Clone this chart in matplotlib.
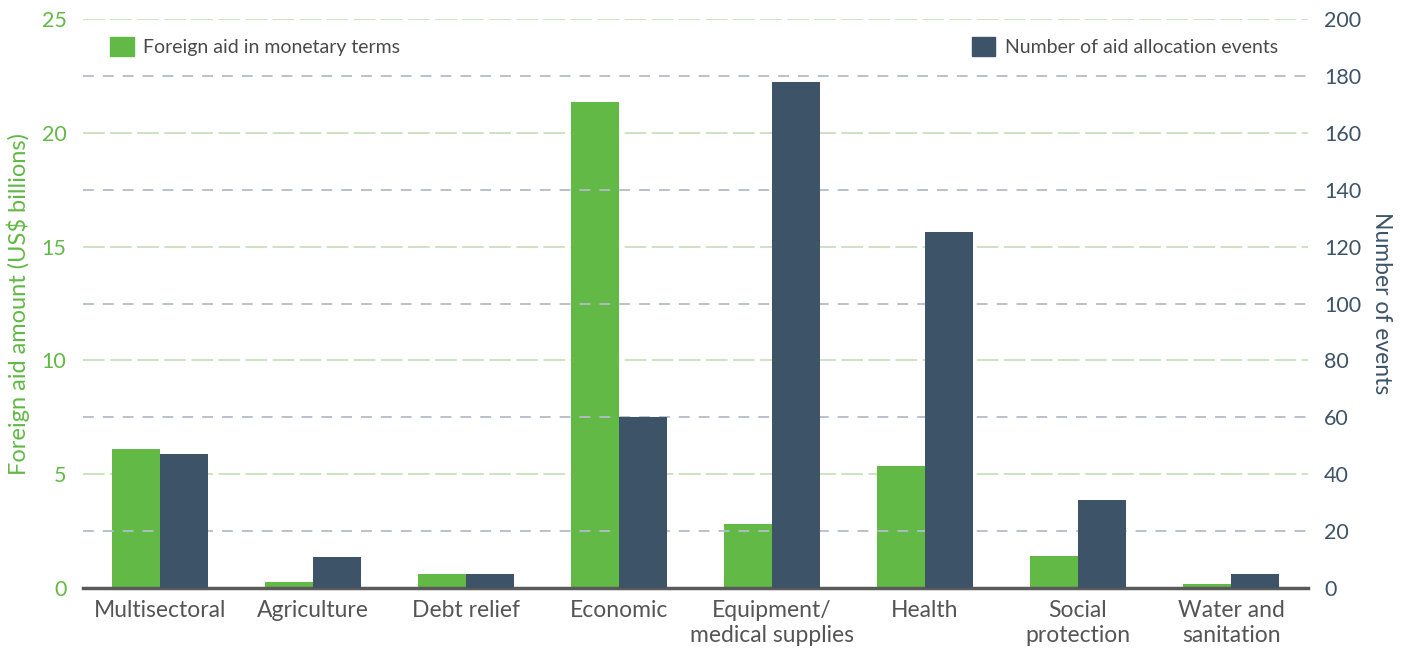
import numpy as np
import matplotlib
matplotlib.use('Agg')
import matplotlib.pyplot as plt
from matplotlib.patches import Patch

categories = ['Multisectoral', 'Agriculture', 'Debt relief', 'Economic',
              'Equipment/\nmedical supplies', 'Health', 'Social\nprotection',
              'Water and\nsanitation']
aid_billions = [6.1, 0.26, 0.62, 21.35, 2.8, 5.36, 1.42, 0.18]
events = [47, 11, 5, 60, 178, 125, 31, 5]

green = '#62b946'
navy = '#3d5368'
grey_text = '#555555'

plt.rcParams['font.family'] = ['Lato', 'DejaVu Sans']

fig = plt.figure(figsize=(14.09, 6.48), dpi=100)
ax = fig.add_axes([0.059, 0.0926, 0.869, 0.878])
ax2 = ax.twinx()

x = np.arange(len(categories))
w = 0.314
ax.bar(x - w / 2, aid_billions, w, color=green, zorder=3)
ax2.bar(x + w / 2, events, w, color=navy, zorder=3)

ax.set_xlim(-0.5, 7.5)
ax.set_ylim(0, 25)
ax2.set_ylim(0, 200)
ax.set_yticks(np.arange(0, 26, 5))
ax2.set_yticks(np.arange(0, 201, 20))

# gridlines: green for left ticks, grey dashed for the odd right ticks
for v in range(5, 26, 5):
    ax.axhline(v, color='#c9e0bd', lw=1.3, dashes=(12, 3), zorder=1)
for v in range(20, 200, 40):
    ax2.axhline(v, color='#b5bcc8', lw=1.3, dashes=(6, 5), zorder=1)
ax.axhline(0, color='#5a5a5a', lw=2.5, zorder=4, clip_on=False)

for a in (ax, ax2):
    for s in a.spines.values():
        s.set_visible(False)
    a.tick_params(length=0)
ax2.set_zorder(ax.get_zorder() + 1)
ax.patch.set_visible(False)

ax.set_xticks(x)
ax.set_xticklabels(categories, fontsize=16.5, color=grey_text, linespacing=1.2)
ax.tick_params(axis='x', pad=9)
ax.tick_params(axis='y', colors=green, labelsize=15.5, pad=12)
ax2.tick_params(axis='y', colors=navy, labelsize=15.5, pad=12)

ax.set_ylabel('Foreign aid amount (US$ billions)', color=green, fontsize=17, labelpad=8)
ax2.set_ylabel('Number of events', color=navy, fontsize=16.5, rotation=-90, labelpad=22)

leg1 = ax2.legend(handles=[Patch(color=green, label='Foreign aid in monetary terms')],
                  loc='upper left', bbox_to_anchor=(0.008, 1.0), frameon=False,
                  fontsize=14, handlelength=1.2, handleheight=1.2, handletextpad=0.5,
                  labelcolor='#4a4a4a')
ax2.add_artist(leg1)
ax2.legend(handles=[Patch(color=navy, label='Number of aid allocation events')],
           loc='upper right', bbox_to_anchor=(0.99, 1.0), frameon=False,
           fontsize=14, handlelength=1.2, handleheight=1.2, handletextpad=0.5,
           labelcolor='#4a4a4a')

fig.savefig('out.png', dpi=100)
